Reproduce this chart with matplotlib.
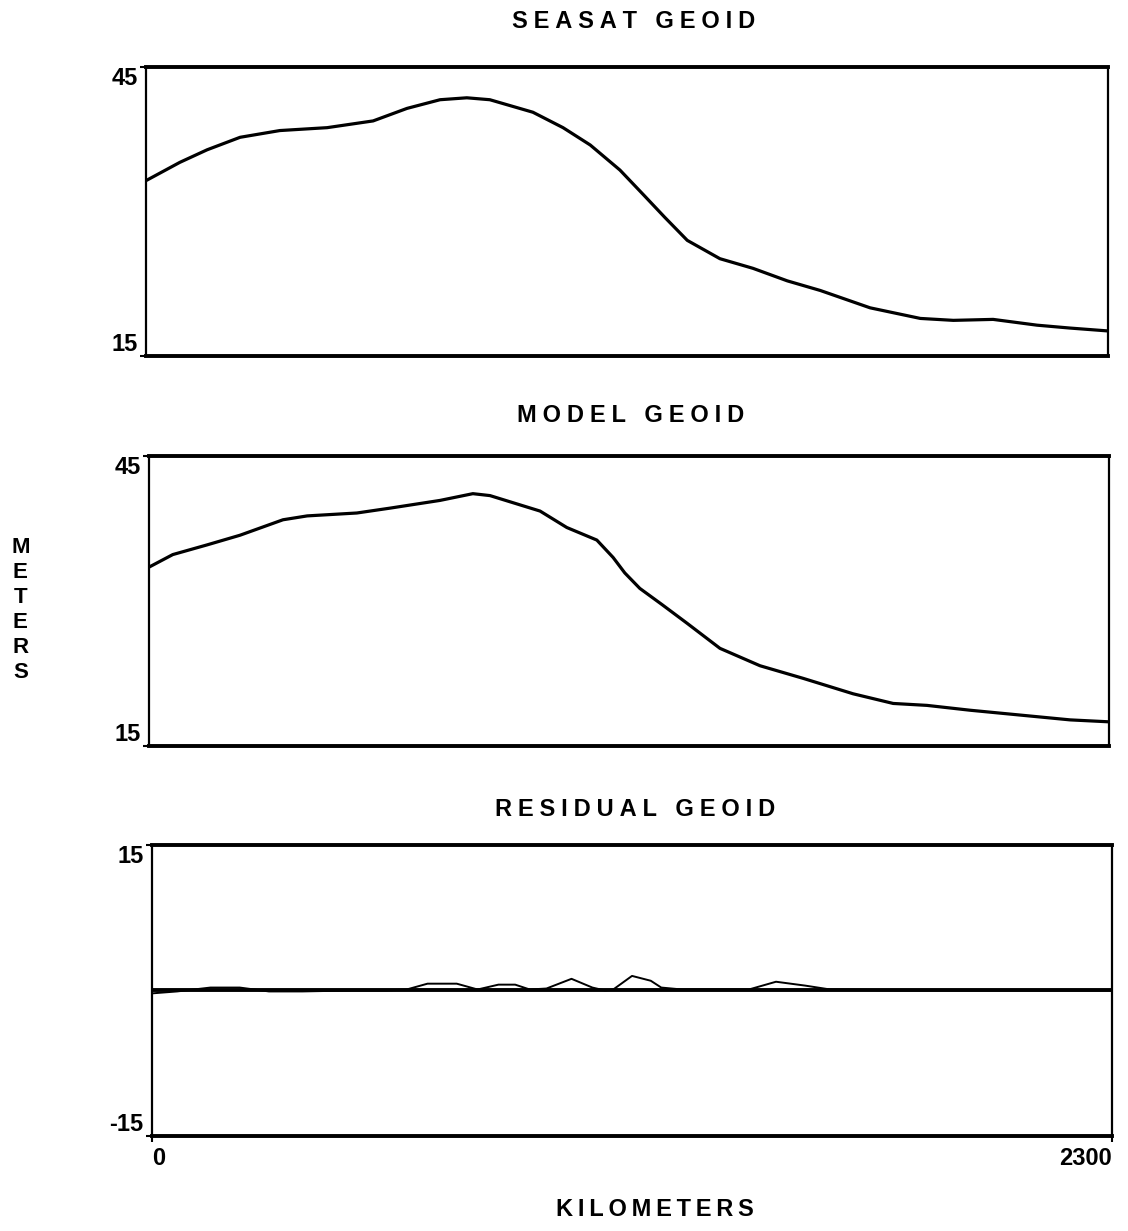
import numpy as np
import matplotlib
matplotlib.use("Agg")
import matplotlib.pyplot as plt

# distance along track (km) and geoid heights (m)
seasat_km = [0, 81, 146, 225, 320, 433, 543, 624, 703, 767, 822, 925, 997,
             1062, 1133, 1190, 1240, 1294, 1372, 1451, 1533, 1612, 1731,
             1851, 1930, 2025, 2130, 2209, 2300]
seasat_m = [33.2, 35.1, 36.4, 37.7, 38.4, 38.7, 39.4, 40.7, 41.6, 41.8, 41.6,
            40.3, 38.7, 36.9, 34.3, 31.7, 29.4, 27.0, 25.1, 24.1, 22.8, 21.8,
            20.0, 18.9, 18.7, 18.8, 18.2, 17.9, 17.6]

model_km = [0, 57, 139, 218, 321, 379, 498, 577, 697, 776, 817, 937, 1001,
            1073, 1112, 1140, 1176, 1230, 1289, 1368, 1464, 1567, 1687, 1783,
            1864, 1967, 2087, 2207, 2300]
model_m = [33.5, 34.8, 35.8, 36.8, 38.4, 38.8, 39.1, 39.6, 40.4, 41.1, 40.9,
           39.3, 37.6, 36.3, 34.5, 32.9, 31.3, 29.6, 27.7, 25.1, 23.3, 22.0,
           20.4, 19.4, 19.2, 18.7, 18.2, 17.7, 17.5]

resid_km = [0, 60, 140, 210, 280, 360, 480, 560, 610, 660, 730, 780, 830, 870,
            905, 945, 1005, 1055, 1085, 1105, 1150, 1195, 1220, 1270, 1430,
            1495, 1565, 1625, 1800, 2300]
resid_m = [-0.3, -0.1, 0.3, 0.3, -0.1, -0.1, 0.0, 0.0, 0.1, 0.7, 0.7, 0.1,
           0.6, 0.6, 0.1, 0.2, 1.2, 0.3, 0.0, 0.1, 1.5, 1.0, 0.3, 0.1, 0.1,
           0.9, 0.5, 0.1, 0.0, 0.0]

titles = ["SEASAT GEOID", "MODEL GEOID", "RESIDUAL GEOID"]
y_limits = [(15, 45), (15, 45), (-15, 15)]
x_range = (0, 2300)

plt.rcParams["font.family"] = ["Liberation Sans", "DejaVu Sans"]
plt.rcParams["font.weight"] = "bold"


def spaced(s, gap="\u2005"):
    # the old plotter letter-spaced its captions
    return gap.join(s).replace(gap + " " + gap, gap * 2 + " ")


fig = plt.figure(figsize=(11.28, 12.31), dpi=100)

# axes rectangles in figure fractions (left, bottom, width, height)
rects = [(0.1294, 0.7108, 0.853, 0.2348),
         (0.1321, 0.3940, 0.851, 0.2356),
         (0.1348, 0.0772, 0.851, 0.2364)]
title_y = [1 - 22 / 1231, 1 - 415 / 1231, 1 - 810 / 1231]
title_x = [634 / 1128, 631 / 1128, 635 / 1128]

axes = []
for rect, lim in zip(rects, y_limits):
    ax = fig.add_axes(rect)
    ax.set_xlim(*x_range)
    ax.set_ylim(*lim)
    ax.set_yticks(list(lim))
    ax.set_yticklabels([str(v) for v in lim], fontsize=17, fontweight="bold")
    labs = ax.get_yticklabels()
    labs[0].set_va("bottom")
    labs[1].set_va("top")
    ax.tick_params(axis="y", length=4, width=1.5, pad=2)
    for side in ["top", "bottom"]:
        ax.spines[side].set_linewidth(2.8)
    for side in ["left", "right"]:
        ax.spines[side].set_linewidth(1.6)
    axes.append(ax)

axes[0].plot(seasat_km, seasat_m, color="black", lw=2.3)
axes[1].plot(model_km, model_m, color="black", lw=2.3)
axes[2].axhline(0, color="black", lw=2.8)
axes[2].plot(resid_km, resid_m, color="black", lw=1.4)

for ax in axes[:2]:
    ax.set_xticks([])
axes[2].set_xticks(list(x_range))
axes[2].set_xticklabels(["0", "2300"], fontsize=17, fontweight="bold")
xl = axes[2].get_xticklabels()
xl[0].set_ha("left")
xl[1].set_ha("right")
axes[2].tick_params(axis="x", length=4, width=1.5, pad=4)

for t, x, y in zip(titles, title_x, title_y):
    fig.text(x, y, spaced(t), ha="center", va="center", fontsize=17,
             fontweight="bold")

fig.text(655 / 1128, 1 - 1210 / 1231, spaced("KILOMETERS", "\u2009"),
         ha="center", va="center", fontsize=17, fontweight="bold")
fig.text(0.018, 1 - 610 / 1231, "M\nE\nT\nE\nR\nS", ha="center", va="center",
         fontsize=16, fontweight="bold", linespacing=1.25)

fig.savefig("out.png", dpi=100)
